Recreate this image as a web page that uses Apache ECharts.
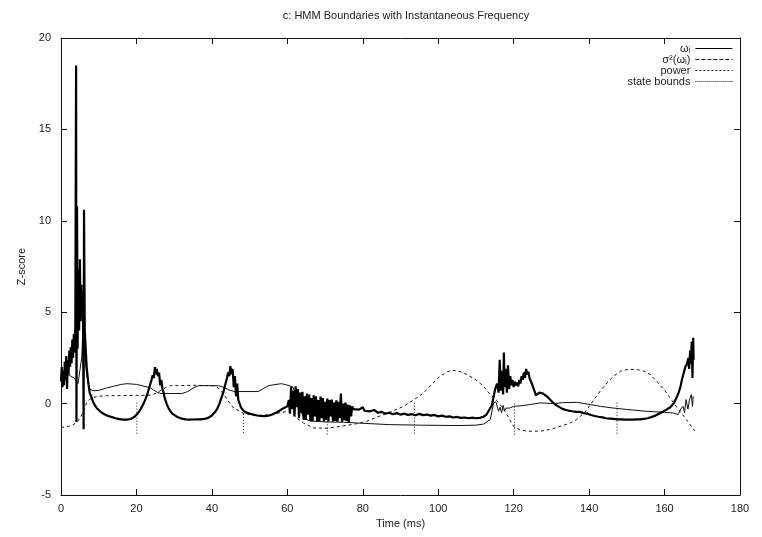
<!DOCTYPE html>
<html>
<head>
<meta charset="utf-8">
<script src="https://cdn.jsdelivr.net/npm/echarts@6/dist/echarts.min.js"></script>
<style>
html,body{margin:0;padding:0;background:#fff;}
#c{width:762px;height:537px;}
</style>
</head>
<body>
<div id="c"></div>
<script>
// ---- Data ----
const titleText = 'c: HMM Boundaries with Instantaneous Frequency';
const xTicks = [0, 20, 40, 60, 80, 100, 120, 140, 160, 180];
const yTicks = [-5, 0, 5, 10, 15, 20];
const seriesNames = ['ωᵢ', 'σ²(ωᵢ)', 'power', 'state bounds'];

// instantaneous frequency z-score  [time ms, z]
const omega = [
[0.0,1.2],[0.2,2.0],[0.4,0.9],[0.6,1.8],[0.8,1.0],[1.0,2.3],[1.2,1.3],[1.4,2.6],[1.6,0.8],[1.8,2.4],
[2.0,1.6],[2.2,2.9],[2.4,2.0],[2.6,3.1],[2.8,2.2],[3.0,3.5],[3.2,2.5],[3.4,3.8],[3.6,2.8],[3.8,4.2],
[4.0,18.5],[4.1,-1.0],[4.25,10.8],[4.4,3.0],[4.6,7.3],[4.8,4.0],[5.0,7.9],[5.2,4.5],[5.4,6.5],[5.6,4.8],
[5.8,6.0],[6.0,-1.4],[6.1,10.6],[6.3,4.0],[6.5,3.2],[6.8,2.0],[7.2,1.2],[7.6,0.6],[8.0,0.4],
[8.5,0.1],[9.0,-0.1],[9.5,-0.25],[10,-0.35],[10.5,-0.45],[11,-0.5],[11.5,-0.58],[12,-0.62],[12.5,-0.68],
[13,-0.7],[13.5,-0.74],[14,-0.78],[14.5,-0.8],[15,-0.83],[15.5,-0.85],[16,-0.86],[16.5,-0.88],[17,-0.87],
[17.5,-0.88],[18,-0.86],[18.5,-0.84],[19,-0.8],[19.5,-0.72],[20,-0.62],[20.5,-0.5],[21,-0.35],[21.5,-0.15],
[22,0.05],[22.5,0.3],[23,0.6],[23.5,0.95],[24,1.3],[24.3,1.55],[24.6,1.4],[24.9,2.0],[25.1,1.6],[25.4,1.9],
[25.7,1.5],[26,1.7],[26.3,1.0],[26.6,1.3],[26.9,0.8],[27.2,0.6],[27.5,0.3],[28,0.0],[28.5,-0.25],[29,-0.42],
[29.5,-0.55],[30,-0.63],[31,-0.75],[32,-0.82],[33,-0.86],[34,-0.88],[35,-0.87],[36,-0.86],[37,-0.86],
[38,-0.84],[39,-0.78],[40,-0.65],[40.5,-0.55],[41,-0.42],[41.5,-0.25],[42,0.0],[42.5,0.3],[43,0.6],
[43.5,1.0],[44,1.4],[44.3,1.7],[44.6,1.5],[44.9,2.05],[45.2,1.6],[45.5,1.9],[45.8,0.9],[46.1,1.5],
[46.4,0.4],[46.7,1.1],[47,0.2],[47.3,0.1],[47.7,-0.2],[48.2,-0.35],[49,-0.48],[50,-0.55],[51,-0.6],
[52,-0.65],[53,-0.67],[54,-0.68],[55,-0.66],[56,-0.6],[57,-0.5],[58,-0.38],[59,-0.25],[60,-0.15],
[60.4,0.2],[60.7,-0.55],[61.0,0.9],[61.3,-0.3],[61.6,0.7],[61.9,-0.7],[62.2,0.95],[62.5,-0.2],[62.8,0.8],
[63.1,-0.8],[63.4,0.6],[63.7,-0.5],[64.0,0.65],[64.3,-0.88],[64.6,0.4],[64.9,-0.9],[65.2,0.55],[65.5,-0.6],
[65.8,0.5],[66.1,-0.95],[66.4,0.3],[66.7,-0.96],[67.0,0.45],[67.3,-0.7],[67.6,0.4],[67.9,-0.97],[68.2,0.2],
[68.5,-0.95],[68.8,0.38],[69.1,-0.8],[69.4,0.3],[69.7,-0.98],[70.0,0.1],[70.3,-0.9],[70.6,0.28],[70.9,-0.98],
[71.2,0.2],[71.5,-0.7],[71.8,0.22],[72.1,-0.98],[72.4,0.05],[72.7,-0.95],[73.0,0.18],[73.3,-0.99],[73.6,0.1],
[73.9,-0.8],[74.2,0.55],[74.5,-1.0],[74.8,0.0],[75.1,-0.9],[75.4,0.05],[75.7,-0.95],[76.0,-0.05],[76.3,-1.0],
[76.6,-0.1],[76.9,-0.7],[77.2,-0.15],[77.5,-0.3],
[78,-0.3],[79,-0.33],[80,-0.2],[80.5,-0.4],[81,-0.35],[82,-0.42],[83,-0.35],[84,-0.5],[85,-0.45],[86,-0.55],
[87,-0.5],[88,-0.58],[89,-0.52],[90,-0.6],[91,-0.55],[92,-0.62],[93,-0.58],[94,-0.64],[95,-0.56],[96,-0.63],
[97,-0.6],[98,-0.66],[99,-0.62],[100,-0.7],[101,-0.66],[102,-0.72],[103,-0.7],[104,-0.76],[105,-0.73],
[106,-0.78],[107,-0.76],[108,-0.8],[109,-0.77],[110,-0.8],[111,-0.78],[112,-0.72],[112.8,-0.6],[113.5,-0.35],
[114.2,-0.1],[114.7,0.4],[115.1,0.8],[115.6,1.1],
[116.0,0.6],[116.3,2.4],[116.6,0.7],[116.9,1.8],[117.2,0.5],[117.4,2.8],[117.6,0.9],[117.9,1.9],[118.2,0.6],
[118.5,2.1],[118.8,0.8],[119.1,1.5],[119.4,1.0],[119.7,1.3],[120.0,0.9],[120.3,1.2],[120.6,1.0],[120.9,1.15],
[121.2,0.95],[121.5,1.3],[121.8,1.1],[122.1,1.5],[122.4,1.3],[122.7,1.7],[123.0,1.4],[123.3,1.9],[123.6,1.6],
[123.9,1.75],[124.2,1.4],[124.5,1.5],[124.8,1.1],[125.1,1.0],[125.5,0.7],[125.9,0.45],[126.3,0.4],[126.8,0.6],
[127.3,0.7],[127.8,0.55],[128.3,0.6],[128.8,0.4],[129.5,0.25],[130.2,0.1],[131,-0.05],[131.8,-0.15],
[132.6,-0.25],[133.5,-0.33],[134.5,-0.38],[135.5,-0.42],[136.5,-0.45],[137.5,-0.45],[138.5,-0.52],
[139.5,-0.55],[140.5,-0.62],[141.5,-0.68],[142.5,-0.72],[143.5,-0.75],[144.5,-0.8],[145.5,-0.82],
[146.5,-0.84],[147.5,-0.86],[148.5,-0.86],[149.5,-0.88],[150.5,-0.87],[151.5,-0.88],[152.5,-0.86],
[153.5,-0.86],[154.5,-0.84],[155.5,-0.8],[156.5,-0.74],[157.5,-0.66],[158.5,-0.56],[159.5,-0.45],
[160.5,-0.33],[161.5,-0.2],[162.4,0.0],[163.0,0.25],[163.7,0.58],[164.2,0.9],[164.6,1.3],[165.1,1.7],
[165.5,2.0],[166.0,2.2],[166.3,2.5],[166.5,1.9],[166.8,2.9],[167.0,2.2],[167.2,3.4],[167.4,1.4],
[167.6,3.6],[167.7,2.4]
];

// variance of instantaneous frequency
const sigma2 = [
[0,1.3],[0.5,1.1],[1,1.5],[1.5,1.3],[2,1.65],[2.5,1.5],[3,1.6],[3.5,1.4],[4,1.3],[4.5,1.1],[5,1.0],
[5.5,2.5],[5.9,4.6],[6.3,3.0],[6.7,1.8],[7.2,1.1],[7.6,0.8],[8.5,0.7],[10,0.72],[12,0.85],[14,0.95],
[16,1.05],[17.5,1.09],[20,1.05],[22,0.95],[23.5,0.88],[24.5,0.75],[25.5,0.62],[26.5,0.55],[32,0.55],
[33.5,0.65],[35,0.85],[36.5,0.98],[41.7,0.98],[43,0.9],[44.5,0.75],[46,0.66],[52.3,0.66],[53.5,0.8],
[55,0.98],[57,1.05],[58.5,1.09],[60.5,0.98],[61.5,0.9],[62.5,0.3],[63.5,-0.4],[64.5,-0.8],[66,-0.95],
[70,-1.0],[75,-1.02],[78.4,-1.06],[87,-1.15],[95,-1.18],[105,-1.2],[110,-1.18],[112,-1.12],[113.8,-0.87],
[114.7,0.04],[115.3,0.1],[116.0,-0.42],[116.4,-0.2],[116.8,-0.5],[117.2,-0.1],[117.6,-0.4],[118,-0.25],
[119,-0.24],[120,-0.15],[122,-0.12],[124.4,-0.05],[127.1,0.04],[130.5,0.0],[133,0.05],[136.7,0.07],
[140.3,-0.05],[143,-0.15],[146.3,-0.24],[150,-0.32],[155.1,-0.42],[160,-0.48],[162.2,-0.51],[163.6,-0.6],
[164.3,-0.3],[164.9,-0.15],[165.3,-0.5],[165.7,0.22],[166.2,-0.3],[166.6,0.2],[167.1,0.49],[167.4,-0.15],
[167.6,0.4]
];

// signal power z-score
const power = [
[0,-1.3],[1,-1.28],[2,-1.24],[3,-1.18],[3.7,-1.09],[4.5,-0.95],[5.3,-0.7],[6,-0.4],[6.8,0.05],[7.5,0.22],
[8.5,0.33],[9.9,0.4],[12,0.43],[16,0.44],[20,0.45],[24,0.46],[25.5,0.6],[26.7,0.75],[28,0.9],[29,0.98],
[35,1.0],[40.8,0.98],[42,0.8],[43.5,0.4],[45.3,-0.15],[47.9,-0.5],[50,-0.6],[52,-0.65],[55,-0.62],
[58,-0.5],[60.7,-0.4],[62.5,-0.8],[64.3,-1.06],[66.9,-1.33],[70.6,-1.35],[74,-1.25],[78.4,-1.1],
[81,-0.97],[85.5,-0.6],[88,-0.4],[90.8,-0.15],[93.5,0.2],[96.1,0.58],[98.5,1.1],[100.5,1.5],[102.5,1.75],
[104,1.82],[105.8,1.75],[107.6,1.59],[110,1.3],[112,0.95],[113.8,0.5],[115.6,0.15],[117,-0.2],[118.2,-0.6],
[120,-1.25],[121.5,-1.42],[123.5,-1.51],[127,-1.51],[130,-1.4],[133,-1.2],[135,-1.06],[136.7,-0.87],
[139,-0.45],[141.2,0.2],[143,0.7],[144.7,1.13],[146.5,1.5],[148.3,1.77],[150.5,1.88],[152.7,1.86],
[154.5,1.78],[156.2,1.59],[158,1.2],[159.8,0.77],[161.2,0.4],[162.4,0.04],[163.8,-0.35],[165.1,-0.69],
[166.6,-1.1],[168.0,-1.5]
];

// HMM state boundaries (time ms) and the z range of each vertical mark
const boundTimes = [20.1, 48.4, 70.6, 93.7, 120.2, 147.4];
const boundTops = [0.05, -0.4, -0.15, 0.05, 0.0, 0.05];
const boundBottom = -1.7;

// ---- Build ----
const boundData = [];
boundTimes.forEach((t, i) => {
  boundData.push([t, boundTops[i]], [t, boundBottom], [t, '-']);
});

const FONT = '"Liberation Sans", Arial, Helvetica, sans-serif';
const TXT = '#222';

const chart = echarts.init(document.getElementById('c'), null, {renderer: 'canvas'});
const xBase = {
  type: 'value', min: 0, max: 180, interval: 20,
  axisLine: {show: true, onZero: false, lineStyle: {color: '#111', width: 1}},
  axisTick: {show: true, inside: true, length: 6, lineStyle: {color: '#111'}},
  splitLine: {show: false}
};
const yBase = {
  type: 'value', min: -5, max: 20, interval: 5,
  axisLine: {show: true, onZero: false, lineStyle: {color: '#111', width: 1}},
  axisTick: {show: true, inside: true, length: 6, lineStyle: {color: '#111'}},
  splitLine: {show: false}
};

chart.setOption({
  animation: false,
  backgroundColor: '#fff',
  textStyle: {fontFamily: FONT},
  title: {
    text: titleText, left: 401, top: 5, textAlign: 'center',
    textStyle: {fontSize: 11, fontWeight: 'normal', color: TXT, fontFamily: FONT}
  },
  grid: {left: 61, right: 22, top: 38, bottom: 42, containLabel: false},
  legend: {
    orient: 'vertical', right: 24, top: 38, align: 'right',
    itemWidth: 37, itemHeight: 11, itemGap: 0,
    textStyle: {fontSize: 11, color: TXT, fontFamily: FONT},
    itemStyle: {opacity: 0},
    data: [
      {name: seriesNames[0], lineStyle: {width: 1.2, type: 'solid'}},
      {name: seriesNames[1], lineStyle: {width: 1, type: [4, 2]}},
      {name: seriesNames[2], lineStyle: {width: 1, type: [2, 2]}},
      {name: seriesNames[3], lineStyle: {width: 1, type: [1, 1]}}
    ]
  },
  xAxis: [
    Object.assign({}, xBase, {
      position: 'bottom', name: 'Time (ms)', nameLocation: 'middle', nameGap: 21,
      nameTextStyle: {fontSize: 11, color: TXT, fontFamily: FONT},
      axisLabel: {show: true, margin: 8, fontSize: 11, color: TXT, fontFamily: FONT,
        formatter: v => (xTicks.indexOf(v) >= 0 ? String(v) : '')}
    }),
    Object.assign({}, xBase, {position: 'top', axisLabel: {show: false}})
  ],
  yAxis: [
    Object.assign({}, yBase, {
      position: 'left', name: 'Z-score', nameLocation: 'middle', nameGap: 33, nameRotate: 90,
      nameTextStyle: {fontSize: 11, color: TXT, fontFamily: FONT},
      axisLabel: {show: true, margin: 10, fontSize: 11, color: TXT, fontFamily: FONT,
        formatter: v => (yTicks.indexOf(v) >= 0 ? String(v) : '')}
    }),
    Object.assign({}, yBase, {position: 'right', axisLabel: {show: false}})
  ],
  series: [
    {name: seriesNames[0], type: 'line', data: omega, symbol: 'none', z: 4,
     lineStyle: {color: '#000', width: 2.2}, itemStyle: {color: '#000'}},
    {name: seriesNames[1], type: 'line', data: sigma2, symbol: 'none', z: 3,
     lineStyle: {color: '#111', width: 1, type: 'solid'}, itemStyle: {color: '#111'}},
    {name: seriesNames[2], type: 'line', data: power, symbol: 'none', z: 3,
     lineStyle: {color: '#111', width: 1, type: [3, 3]}, itemStyle: {color: '#111'}},
    {name: seriesNames[3], type: 'line', data: boundData, symbol: 'none', z: 2, connectNulls: false,
     lineStyle: {color: '#111', width: 1, type: [1, 2]}, itemStyle: {color: '#111'}}
  ]
});
</script>
</body>
</html>
